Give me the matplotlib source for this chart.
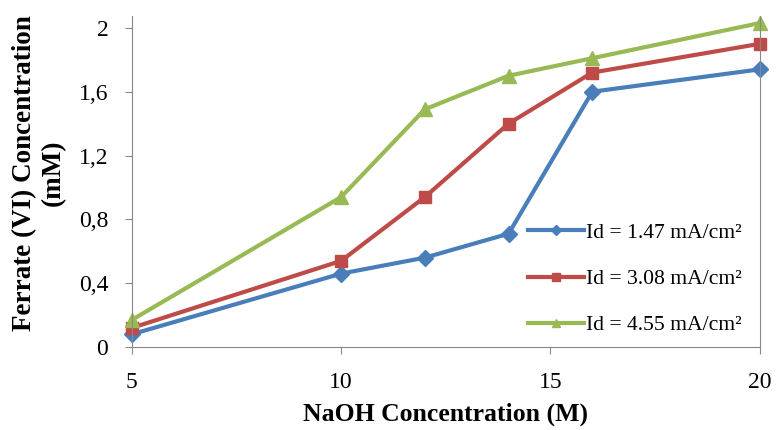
import matplotlib.pyplot as plt
from matplotlib.ticker import FixedLocator, FixedFormatter

naoh = [5, 10, 12, 14, 16, 20]
id_147 = [0.08, 0.46, 0.56, 0.71, 1.60, 1.74]
id_308 = [0.12, 0.54, 0.94, 1.40, 1.72, 1.90]
id_455 = [0.17, 0.94, 1.49, 1.70, 1.81, 2.03]
labels = ["Id = 1.47 mA/cm²", "Id = 3.08 mA/cm²", "Id = 4.55 mA/cm²"]
y_ticks = [0, 0.4, 0.8, 1.2, 1.6, 2.0]
y_tick_labels = ["0", "0,4", "0,8", "1,2", "1,6", "2"]
x_ticks = [5, 10, 15, 20]

plt.rcParams["font.family"] = ["Liberation Serif", "DejaVu Serif"]

fig = plt.figure(figsize=(7.76, 4.30), dpi=100)
ax = fig.add_axes([0.170, 0.193, 0.809, 0.770])

ax.plot(naoh, id_147, color="#4A7EBB", lw=3, marker="D", ms=8, label=labels[0])
ax.plot(naoh, id_308, color="#BE4B48", lw=3, marker="s", ms=9, label=labels[1])
ax.plot(naoh, id_455, color="#98B954", lw=3, marker="^", ms=10, label=labels[2])

ax.set_xlim(5, 20)
ax.set_ylim(0, 2.075)
ax.xaxis.set_major_locator(FixedLocator(x_ticks))
ax.yaxis.set_major_locator(FixedLocator(y_ticks))
ax.yaxis.set_major_formatter(FixedFormatter(y_tick_labels))
ax.tick_params(direction="out", length=5, color="#888888", labelsize=17)
ax.tick_params(axis="x", pad=13)
ax.tick_params(axis="y", pad=12)

for side in ["left", "bottom", "right"]:
    ax.spines[side].set_color("#888888")
ax.spines["top"].set_visible(False)

ax.set_xlabel("NaOH Concentration (M)", fontsize=18.5, fontweight="bold", labelpad=7)
ax.set_ylabel("Ferrate (VI) Concentration\n(mM)", fontsize=19.5, fontweight="bold",
              linespacing=1.2, va="center", ha="center")
ax.yaxis.set_label_coords(-0.148, 0.526)

for line in ax.get_lines():
    line.set_clip_on(False)

fig.legend(loc="center left", bbox_to_anchor=(528 / 776, 1 - 279 / 430),
           frameon=False, fontsize=15.6, handlelength=2.6, handletextpad=0.1,
           labelspacing=1.2, markerscale=0.6, borderpad=0, borderaxespad=0)

fig.savefig("out.png", dpi=100)
